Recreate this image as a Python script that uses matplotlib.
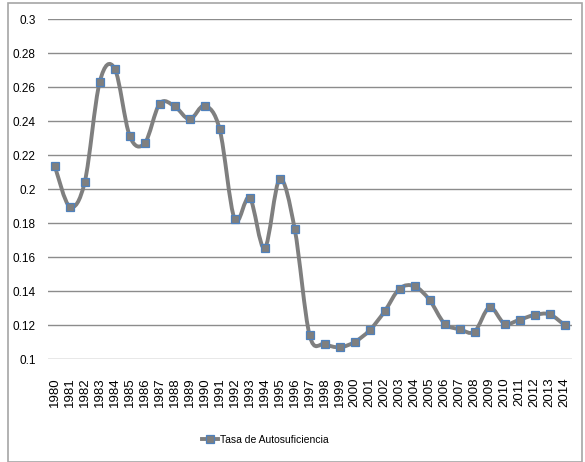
import numpy as np
import matplotlib
matplotlib.use("Agg")
import matplotlib.pyplot as plt
from matplotlib.path import Path
from matplotlib.patches import PathPatch, Rectangle
from matplotlib.lines import Line2D

# Data
years = list(range(1980, 2015))
tasa = [0.2135, 0.1896, 0.2041, 0.2630, 0.2708, 0.2312, 0.2269, 0.2502, 0.2486, 0.2410,
        0.2490, 0.2351, 0.1822, 0.1949, 0.1651, 0.2057, 0.1767, 0.1139, 0.1088, 0.1069,
        0.1100, 0.1169, 0.1280, 0.1414, 0.1428, 0.1347, 0.1208, 0.1175, 0.1161, 0.1304,
        0.1208, 0.1231, 0.1259, 0.1263, 0.1200]
yticks = [0.1, 0.12, 0.14, 0.16, 0.18, 0.2, 0.22, 0.24, 0.26, 0.28, 0.3]
ytick_labels = ['0.1', '0.12', '0.14', '0.16', '0.18', '0.2', '0.22', '0.24', '0.26', '0.28', '0.3']
series_name = 'Tasa de Autosuficiencia'

line_color = '#7f7f7f'
edge_color = '#4f81bd'

plt.rcParams['font.family'] = ['Liberation Sans', 'DejaVu Sans']

fig = plt.figure(figsize=(5.85, 4.62), dpi=100)
ax = fig.add_axes([48 / 585, 1 - 359 / 462, (572 - 48) / 585, (359 - 19) / 462])

# smoothed line (Catmull-Rom style bezier, like Excel's smoothed line)
x = np.array(years, dtype=float)
y = np.array(tasa)
pts = np.column_stack([x, y])
verts = [pts[0]]
codes = [Path.MOVETO]
for i in range(len(pts) - 1):
    p0 = pts[i - 1] if i > 0 else pts[i]
    p1 = pts[i]
    p2 = pts[i + 1]
    p3 = pts[i + 2] if i + 2 < len(pts) else pts[i + 1]
    c1 = p1 + (p2 - p0) / 6.0
    c2 = p2 - (p3 - p1) / 6.0
    verts += [c1, c2, p2]
    codes += [Path.CURVE4] * 3
ax.add_patch(PathPatch(Path(verts, codes), facecolor='none', edgecolor=line_color,
                       lw=2.8, zorder=3, capstyle='round', joinstyle='round'))
ax.plot(x, y, linestyle='none', marker='s', markersize=6, markerfacecolor=line_color,
        markeredgecolor=edge_color, markeredgewidth=0.9, zorder=4)

ax.set_xlim(1980 - 0.45, 2014 + 0.5)
ax.set_ylim(0.1, 0.3)
ax.set_yticks(yticks)
ax.set_yticklabels(ytick_labels, fontsize=8.5)
ax.set_xticks(years)
ax.set_xticklabels([str(v) for v in years], rotation=90, fontsize=9.5)
ax.tick_params(axis='x', length=0, pad=13)
ax.tick_params(axis='y', length=0, pad=9)
ax.grid(axis='y', color='#8c8c8c', lw=1)
ax.set_axisbelow(True)
for s in ax.spines.values():
    s.set_visible(False)

# legend
handle = Line2D([], [], color=line_color, lw=2.8, marker='s', markersize=6,
                markerfacecolor=line_color, markeredgecolor=edge_color, markeredgewidth=0.9)
fig.legend([handle], [series_name], loc='center', bbox_to_anchor=(265 / 585, 1 - 440 / 462),
           frameon=False, fontsize=7.5, handlelength=1.6, handletextpad=0.15)

# outer chart border
fig.patches.append(Rectangle((8 / 585, 0), (582 - 8) / 585, 1 - 3 / 462, transform=fig.transFigure,
                             fill=False, edgecolor='#a6a6a6', lw=1.2))

fig.savefig('out.png', dpi=100)
